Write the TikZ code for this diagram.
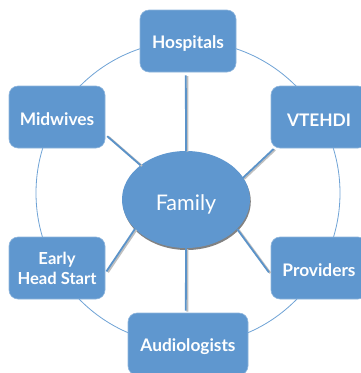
\documentclass[tikz,border=0pt]{standalone}
\usepackage{fontspec}
\setmainfont{Lato}
\usetikzlibrary{shadows,shapes.geometric}
\definecolor{blu}{HTML}{5F97CF}
\definecolor{lin}{HTML}{5B93C9}
\definecolor{rng}{HTML}{6FA3D6}
\tikzset{
  hub/.style={draw=blu!70!white,line width=.6pt,fill=blu,rounded corners=9pt,minimum width=96pt,minimum height=62pt,inner sep=0pt,align=center,text=white,font=\fontsize{17.3}{20}\selectfont\bfseries,execute at begin node={\rule{0pt}{18pt}}},
  core/.style={ellipse,fill=blu,minimum width=128pt,minimum height=97pt,inner sep=0pt,text=white,font=\fontsize{21.5}{24}\selectfont,execute at begin node={\rule{0pt}{26pt}},drop shadow={opacity=.75,shadow xshift=.8pt,shadow yshift=-2pt,fill=black!65}},
  ring/.style={draw=rng,line width=.8pt},
  link/.style={draw=lin,line width=1.8pt,preaction={draw=black!25,line width=2pt,transform canvas={shift={(1.5pt,-.8pt)}}}}
}
\begin{document}
\begin{tikzpicture}[x=1pt,y=-1pt]
\useasboundingbox (0,0) rectangle (361,373);
\clip (0,0) rectangle (361,373);
\fill[white] (0,0) rectangle (361,373);
\coordinate (ringc) at (188,193);
\draw[ring] (ringc) circle[radius=152pt];
\node[hub] (hosp) at (188,41) {Hospitals};
\node[hub] (midw) at (57,117) {Midwives};
\node[hub] (vtehdi) at (319,117) {VTEHDI};
\node[hub,font=\fontsize{16.6}{20}\selectfont\bfseries,execute at begin node={\rule{0pt}{20pt}}] (early) at (57,268) {Early\\Head Start};
\node[hub] (prov) at (319,268) {Providers};
\node[hub,minimum width=120pt] (audio) at (188,344) {Audiologists};
\node[core] (fam) at (186,199.5) {Family};
\draw[link,shorten <=3pt] (hosp.-94) -- (fam.north);
\draw[link,shorten <=2pt] (audio.94) -- (fam.south);
\draw[link,shorten <=2.5pt] (midw.-20) -- (fam.143);
\draw[link,shorten <=1pt,shorten >=-1pt] (vtehdi.215) -- (fam.21);
\draw[link,shorten <=2pt] (early.-6) -- (fam.210);
\draw[link,shorten <=3pt] (prov.188) -- (fam.-30);
\end{tikzpicture}
\end{document}
